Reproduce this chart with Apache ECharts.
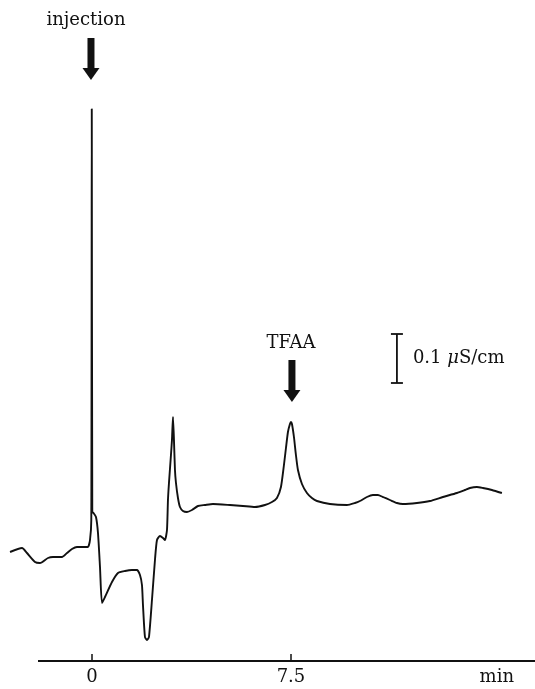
<!DOCTYPE html>
<html>
<head>
<meta charset="utf-8">
<script src="https://cdn.jsdelivr.net/npm/echarts@6/dist/echarts.min.js"></script>
<style>
html,body{margin:0;padding:0;background:#fff;}
#chart{width:535px;height:689px;}
</style>
</head>
<body>
<div id="chart"></div>
<script>
// Retention time (min)
const timeMin = [
  -3.090, -2.638, -2.450, -2.148, -1.960, -1.658, -1.470, -1.131, -0.942, -0.754,
  -0.565, -0.264, -0.151, -0.075, -0.026, -0.008, 0.011, 0.057, 0.151, 0.226,
  0.302, 0.377, 0.490, 0.754, 0.980, 1.244, 1.508, 1.696, 1.809, 1.884,
  1.922, 1.997, 2.073, 2.148, 2.261, 2.374, 2.450, 2.563, 2.676, 2.751,
  2.827, 2.864, 2.902, 2.977, 3.015, 3.053, 3.090, 3.128, 3.166, 3.241,
  3.317, 3.430, 3.580, 3.769, 3.995, 4.259, 4.560, 5.201, 5.691, 6.143,
  6.520, 6.784, 6.972, 7.123, 7.236, 7.312, 7.387, 7.462, 7.500, 7.538,
  7.613, 7.688, 7.764, 7.915, 8.103, 8.291, 8.480, 8.970, 9.611, 9.912,
  10.101, 10.364, 10.590, 10.779, 10.967, 11.231, 11.495, 11.721, 12.249, 12.739,
  13.229, 13.756, 14.058, 14.246, 14.510, 14.736, 15.075, 15.452
];
// Conductivity signal (relative units, 500 units = 1 uS/cm)
const signal = [
  109, 113, 108, 99, 98, 103, 104, 104, 108, 112,
  114, 114, 114, 121, 141, 552, 149, 148, 144, 128,
  94, 58, 64, 79, 88, 90, 91, 91, 86, 76,
  56, 24, 21, 24, 61, 101, 121, 125, 123, 121,
  131, 161, 178, 206, 221, 244, 221, 191, 178, 163,
  154, 150, 149, 151, 155, 156, 157, 156, 155, 154,
  156, 159, 163, 174, 196, 213, 229, 237, 239, 237,
  224, 206, 191, 177, 168, 163, 160, 157, 156, 158,
  160, 164, 166, 166, 164, 161, 158, 157, 158, 160,
  164, 168, 171, 173, 174, 173, 171, 168
];
// Time axis: drawn extent, ticks and labels
const axisStart = -2.035;
const axisEnd = 16.7;
const tickValues = [0, 7.5];
const labelValues = [0, 7.5, 15.26];
const labelTexts = ['0', '7.5', 'min'];
// Annotations
const peakNames = ['injection', 'TFAA'];
const peakTimes = [0, 7.5];
const scaleBarTime = 11.495;
const scaleBarSignal = [278, 327]; // 0.1 uS/cm

const chart = echarts.init(document.getElementById('chart'));
const FONT = 'DejaVu Serif';

chart.setOption({
  animation: false,
  backgroundColor: '#fff',
  grid: {left: 0, right: 0, top: 61, bottom: 28},
  xAxis: {
    type: 'value', min: -3.4675, max: axisEnd,
    axisLine: {show: false},
    axisTick: {show: true, inside: true, length: 7, customValues: tickValues, lineStyle: {color: '#111', width: 1.5}},
    axisLabel: {
      show: true, customValues: labelValues, margin: 7,
      fontFamily: FONT, fontSize: 18, color: '#111',
      formatter: function (v) { const i = labelValues.indexOf(v); return i >= 0 ? labelTexts[i] : ''; }
    },
    splitLine: {show: false}
  },
  yAxis: {type: 'value', min: 0, max: 600, show: false, splitLine: {show: false}},
  series: [{
    type: 'line', symbol: 'none', smooth: 0.2, silent: true,
    lineStyle: {color: '#111', width: 1.9},
    data: timeMin.map((t, i) => [t, signal[i]])
  }, {
    type: 'line', symbol: 'none', silent: true,
    lineStyle: {color: '#111', width: 2},
    data: [[axisStart, 0], [axisEnd, 0]]
  }]
});

function addArrow(g, x, top) {
  const sw = 7, hw = 17, shaft = 30, head = 12;
  g.push({type: 'rect', shape: {x: x - sw / 2, y: top, width: sw, height: shaft + 1}, style: {fill: '#111'}});
  g.push({type: 'polygon', shape: {points: [[x - hw / 2, top + shaft], [x + hw / 2, top + shaft], [x, top + shaft + head]]}, style: {fill: '#111'}});
}
const p0 = chart.convertToPixel({gridIndex: 0}, [peakTimes[0], 0]);
const p1 = chart.convertToPixel({gridIndex: 0}, [peakTimes[1], 0]);
const base = p0[1];
const g = [];
// injection
g.push({type: 'text', style: {text: peakNames[0], x: p0[0] - 6, y: base - 641, align: 'center', verticalAlign: 'middle', font: '18px "DejaVu Serif"', fill: '#111'}});
addArrow(g, p0[0] - 1, base - 623);
// TFAA
g.push({type: 'text', style: {text: peakNames[1], x: p1[0], y: base - 318, align: 'center', verticalAlign: 'middle', font: '18px "DejaVu Serif"', fill: '#111'}});
addArrow(g, p1[0] + 1, base - 301);
// scale bar
const sbTop = chart.convertToPixel({gridIndex: 0}, [scaleBarTime, scaleBarSignal[1]]);
const sbBot = chart.convertToPixel({gridIndex: 0}, [scaleBarTime, scaleBarSignal[0]]);
const sx = sbTop[0];
g.push({type: 'line', shape: {x1: sx, y1: sbTop[1], x2: sx, y2: sbBot[1]}, style: {stroke: '#111', lineWidth: 1.8}});
g.push({type: 'line', shape: {x1: sx - 6, y1: sbTop[1], x2: sx + 6, y2: sbTop[1]}, style: {stroke: '#111', lineWidth: 1.8}});
g.push({type: 'line', shape: {x1: sx - 6, y1: sbBot[1], x2: sx + 6, y2: sbBot[1]}, style: {stroke: '#111', lineWidth: 1.8}});
g.push({type: 'text', style: {
  text: '0.1 {i|\u03bc}S/cm', x: sx + 16, y: (sbTop[1] + sbBot[1]) / 2, align: 'left', verticalAlign: 'middle',
  fontFamily: FONT, fontSize: 18, fill: '#111',
  rich: {i: {fontFamily: FONT, fontSize: 18, fontStyle: 'italic', fill: '#111'}}
}});
chart.setOption({graphic: g});
</script>
</body>
</html>
